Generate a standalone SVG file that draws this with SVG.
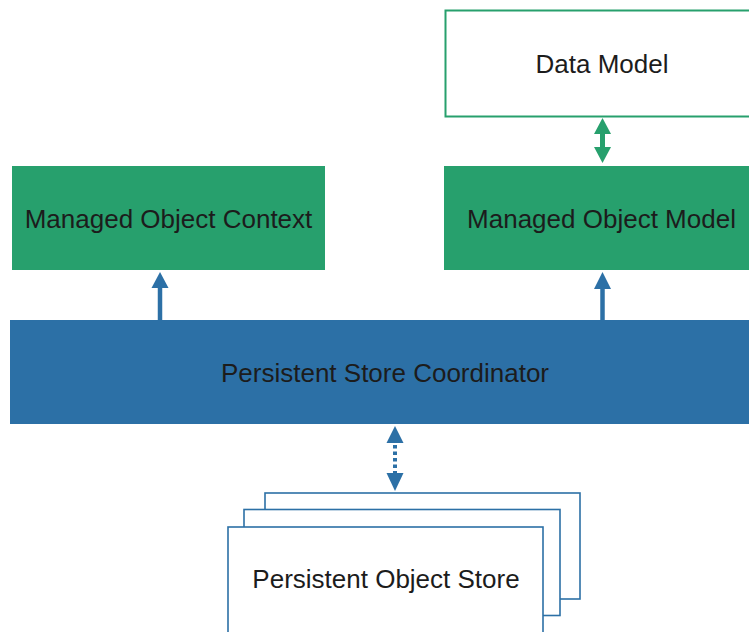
<svg xmlns="http://www.w3.org/2000/svg" width="749" height="632" viewBox="0 0 749 632">
<style>
.lbl{font-family:"Liberation Sans",Arial,sans-serif;font-size:26px;fill:#1c1c1c;text-anchor:middle}
.green{fill:#27a06d}
.blue{fill:#2c70a6}
.store{fill:#fff;stroke:#2c70a6;stroke-width:1.6}
.hg{fill:#27a06d}
.hb{fill:#2c70a6}
</style>
<rect width="749" height="632" fill="#fff"/>
<g id="data-model">
<rect x="445.5" y="10.5" width="310" height="106" fill="#fff" stroke="#27a06d" stroke-width="2"/>
<text class="lbl" x="602" y="73">Data Model</text>
</g>
<g id="managed-object-context">
<rect class="green" x="12" y="166" width="313" height="104"/>
<text class="lbl" x="168.500" y="228">Managed Object Context</text>
</g>
<g id="managed-object-model">
<rect class="green" x="444" y="166" width="310" height="104"/>
<text class="lbl" x="601.500" y="228">Managed Object Model</text>
</g>
<g id="persistent-store-coordinator">
<rect class="blue" x="10" y="320" width="745" height="104"/>
<text class="lbl" x="385" y="382" font-size="25">Persistent Store Coordinator</text>
</g>
<g id="persistent-object-store">
<rect class="store" x="265" y="493" width="315" height="106"/>
<rect class="store" x="244" y="509.500" width="316" height="106"/>
<rect class="store" x="228" y="527" width="315" height="120"/>
<text class="lbl" x="386" y="588">Persistent Object Store</text>
</g>
<g id="connectors">
<line x1="602.500" y1="133" x2="602.500" y2="148" stroke="#27a06d" stroke-width="5"/>
<path class="hg" d="M602.500,118 L611,134 L594,134 Z"/>
<path class="hg" d="M602.500,163 L611,147 L594,147 Z"/>
<line x1="160" y1="320" x2="160" y2="287" stroke="#2c70a6" stroke-width="4.500"/>
<path class="hb" d="M160,272 L168.500,288 L151.500,288 Z"/>
<line x1="602.500" y1="320" x2="602.500" y2="288" stroke="#2c70a6" stroke-width="4.500"/>
<path class="hb" d="M602.500,272 L611,289 L594,289 Z"/>
<line x1="395" y1="445" x2="395" y2="473" stroke="#2c70a6" stroke-width="4" stroke-dasharray="3.500 3"/>
<path class="hb" d="M395,426 L403.500,443 L386.500,443 Z"/>
<path class="hb" d="M395,491 L403.500,473 L386.500,473 Z"/>
</g>
</svg>
